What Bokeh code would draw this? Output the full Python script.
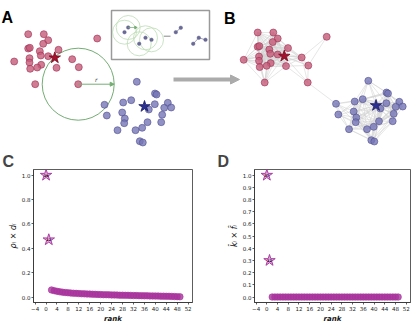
import math
from bokeh.plotting import figure
from bokeh.layouts import column, row
from bokeh.models import Range1d, FixedTicker, Arrow, NormalHead, PrintfTickFormatter
from bokeh.core.properties import value
from bokeh.embed import file_html
from bokeh.resources import INLINE

# ---------------- data ----------------
# network node layout (panel A coordinates)
red_x = [27.7, 43.3, 47.7, 42.7, 96.7, 27.7, 29.3, 39.3, 58.0, 40.3, 47.7,
         29.0, 29.0, 13.7, 71.7, 40.7, 36.7, 29.7, 56.0, 78.3, 34.7, 77.7]
red_y = [33.7, 33.7, 39.7, 43.3, 38.0, 48.0, 47.3, 50.7, 49.3, 55.0, 55.7,
         57.7, 62.0, 61.0, 58.7, 64.3, 67.0, 68.3, 67.3, 66.7, 83.7, 83.7]
red_star = (54.3, 57.3)
blue_x = [136.3, 154.5, 156.0, 130.7, 122.7, 104.0, 154.3, 167.3, 163.7, 170.7, 148.3,
          121.7, 106.3, 161.7, 124.3, 123.7, 147.0, 160.7, 141.7, 135.0, 117.0, 139.3, 142.3]
blue_y = [81.3, 93.0, 94.0, 99.7, 102.0, 104.3, 103.7, 102.3, 107.3, 107.0, 109.0,
          112.0, 115.0, 114.3, 118.0, 122.7, 121.7, 121.7, 127.3, 129.7, 129.7, 140.7, 142.0]
blue_star = (144.0, 106.0)
eps_node = 21          # index in red list of the node with the epsilon circle
eps_radius = 36.0
red_shift_b = (229.5, -1.7)
blue_shift_b = (231.5, -1.0)

# inset sketch
inset_x = [124.0, 127.7, 138.7, 145.0, 151.0, 175.3, 180.3, 192.7, 198.3, 205.0]
inset_y = [31.7, 27.0, 43.3, 37.3, 39.3, 31.7, 27.3, 43.3, 37.3, 39.3]
inset_circled = [0, 1, 2, 3, 4]
inset_radius = 12.0
inset_links = [(5, 6), (7, 8), (8, 9)]

# rank plots
rank_star = [0, 1]
rank_rest = list(range(2, 50))
c_star_vals = [1.0, 0.47]
c_star_labels = ["19", "12"]
c_vals = [0.058, 0.052, 0.047, 0.043, 0.040, 0.037, 0.035, 0.033, 0.031, 0.030,
          0.028, 0.027, 0.026, 0.025, 0.024, 0.023, 0.022, 0.021, 0.020, 0.019,
          0.019, 0.018, 0.017, 0.017, 0.016, 0.015, 0.015, 0.014, 0.014, 0.013,
          0.012, 0.012, 0.011, 0.011, 0.010, 0.010, 0.009, 0.009, 0.008, 0.008,
          0.007, 0.007, 0.006, 0.006, 0.005, 0.004, 0.003, 0.002]
d_star_vals = [1.0, 0.30]
d_star_labels = ["37", "12"]
d_vals = [0.0, 0.0, 0.0, 0.0, 0.0, 0.0, 0.0, 0.0, 0.0, 0.0, 0.0, 0.0,
          0.0, 0.0, 0.0, 0.0, 0.0, 0.0, 0.0, 0.0, 0.0, 0.0, 0.0, 0.0,
          0.0, 0.0, 0.0, 0.0, 0.0, 0.0, 0.0, 0.0, 0.0, 0.0, 0.0, 0.0,
          0.0, 0.0, 0.0, 0.0, 0.0, 0.0, 0.0, 0.0, 0.0, 0.0, 0.0, 0.0]
x_ticks = [-4, 0, 4, 8, 12, 16, 20, 24, 28, 32, 36, 40, 44, 48, 52]
c_yticks = [0.0, 0.2, 0.4, 0.6, 0.8, 1.0]
d_yticks = [0.0, 0.1, 0.2, 0.3, 0.4, 0.5, 0.6, 0.7, 0.8, 0.9, 1.0]
x_label = "rank"
c_ylabel = "\u03c1\u1d62 \u00d7 d\u1d62"
d_ylabel = "k\u0302\u1d62 \u00d7 f\u0302\u1d62"

# ---------------- styles ----------------
RED_FILL, RED_LINE = "#c65a7a", "#9c2f50"
BLUE_FILL, BLUE_LINE = "#7676b6", "#4f4f8f"
GREEN = "#74ad74"
PURPLE = "#a8339c"
FONT = "DejaVu Sans"
LETTER_FONT = "Liberation Sans"

top = figure(width=415, height=150, x_range=Range1d(0, 415), y_range=Range1d(150, 0),
             x_axis_location=None, y_axis_location=None, output_backend="svg",
             toolbar_location=None, min_border=0)
top.grid.visible = False
top.outline_line_color = None

# ---- panel B edges (epsilon graph)
all_x = red_x + [red_star[0]] + blue_x + [blue_star[0]]
all_y = red_y + [red_star[1]] + blue_y + [blue_star[1]]
n_red = len(red_x) + 1
bx = [x + (red_shift_b[0] if i < n_red else blue_shift_b[0]) for i, x in enumerate(all_x)]
by = [y + (red_shift_b[1] if i < n_red else blue_shift_b[1]) for i, y in enumerate(all_y)]
e0x, e0y, e1x, e1y = [], [], [], []
for i in range(len(all_x)):
    for j in range(i + 1, len(all_x)):
        if math.hypot(all_x[i] - all_x[j], all_y[i] - all_y[j]) < eps_radius:
            e0x.append(bx[i]); e0y.append(by[i]); e1x.append(bx[j]); e1y.append(by[j])
top.segment(e0x, e0y, e1x, e1y, line_color="#d2d2d2", line_width=0.7, line_alpha=0.8)


def draw_nodes(dx_r, dy_r, dx_b, dy_b):
    top.scatter([x + dx_r for x in red_x], [y + dy_r for y in red_y], size=7,
                fill_color=RED_FILL, fill_alpha=0.8, line_color=RED_LINE, line_width=0.6)
    top.scatter([x + dx_b for x in blue_x], [y + dy_b for y in blue_y], size=7,
                fill_color=BLUE_FILL, fill_alpha=0.8, line_color=BLUE_LINE, line_width=0.6)
    top.scatter([red_star[0] + dx_r], [red_star[1] + dy_r], marker="star", size=12,
                fill_color="#a3122e", line_color="#7a0a20", line_width=0.8)
    top.scatter([blue_star[0] + dx_b], [blue_star[1] + dy_b], marker="star", size=12,
                fill_color="#2b2f8f", line_color="#1a1d66", line_width=0.8)


# ---- panel A
cx, cy = red_x[eps_node], red_y[eps_node]
top.circle(x=[cx], y=[cy], radius=eps_radius, fill_color=None, line_color=GREEN, line_width=1)
top.add_layout(Arrow(end=NormalHead(size=4, fill_color=GREEN, line_color=GREEN),
                     x_start=cx, y_start=cy, x_end=cx + eps_radius, y_end=cy,
                     line_color=GREEN, line_width=1))
top.text(x=[cx + eps_radius / 2], y=[cy - 1.5], text=["r"], text_font=value(FONT),
         text_font_size="6px", text_font_style="italic", text_color="#444444",
         text_align="center", text_baseline="bottom")
draw_nodes(0, 0, 0, 0)

# ---- inset sketch
top.quad(left=[111], right=[209], top=[10], bottom=[59], fill_color=None,
         line_color="#9a9a9a", line_width=1.5)
top.circle(x=[inset_x[i] for i in inset_circled], y=[inset_y[i] for i in inset_circled],
           radius=inset_radius, fill_color=None, line_color="#bcdcb4", line_width=0.8)
top.segment([inset_x[a] for a, b in inset_links], [inset_y[a] for a, b in inset_links],
            [inset_x[b] for a, b in inset_links], [inset_y[b] for a, b in inset_links],
            line_color="#8888a8", line_width=0.8)
top.add_layout(Arrow(end=NormalHead(size=2.5, fill_color=GREEN, line_color=GREEN),
                     x_start=inset_x[1], y_start=inset_y[1], x_end=inset_x[1] + 9,
                     y_end=inset_y[1], line_color=GREEN, line_width=0.7))
top.segment([163.3], [35.7], [170.0], [35.7], line_color="#888888", line_width=1)
top.scatter(inset_x, inset_y, size=3.6, fill_color="#6a6a9a", line_color="#55557f",
            line_width=0.4)

# ---- big arrow
top.add_layout(Arrow(end=NormalHead(size=9, fill_color="#ababab", line_color="#ababab"),
                     x_start=173, y_start=79, x_end=239, y_end=79,
                     line_color="#ababab", line_width=4))

# ---- panel B nodes
draw_nodes(red_shift_b[0], red_shift_b[1], blue_shift_b[0], blue_shift_b[1])

# ---- panel letters
top.text(x=[1.0, 223.5], y=[17, 18], text=["A", "B"],
         text_font=value(LETTER_FONT), text_font_size="16px", text_font_style="bold",
         text_color="black", text_baseline="alphabetic")


def rank_fig(width, mbl, mbr, letter, star_vals, star_labels, vals, yticks, ylabel):
    p = figure(width=width, height=175, x_range=Range1d(-4.6, 53.6),
               y_range=Range1d(-0.045, 1.047), output_backend="svg",
               toolbar_location=None, min_border_left=mbl, min_border_right=mbr,
               min_border_top=0, min_border_bottom=2, title=letter)
    p.title.text_font = LETTER_FONT
    p.title.text_font_size = "16px"
    p.title.text_font_style = "bold"
    p.title.align = "left"
    p.title.offset = -(mbl - 2)
    p.title.standoff = 0
    p.grid.visible = False
    p.outline_line_color = "#333333"
    p.outline_line_width = 0.8
    p.xaxis.ticker = FixedTicker(ticks=x_ticks)
    p.xaxis.major_label_overrides = {t: ("\u2212" + str(-t) if t < 0 else str(t)) for t in x_ticks}
    p.yaxis.ticker = FixedTicker(ticks=yticks)
    p.yaxis.formatter = PrintfTickFormatter(format="%.1f")
    p.xaxis.axis_label = x_label
    p.yaxis.axis_label = ylabel
    p.xaxis.axis_label_text_font_style = "bold italic"
    p.yaxis.axis_label_text_font_style = "italic"
    p.xaxis.axis_label_text_font_size = "7px"
    p.yaxis.axis_label_text_font_size = "8px"
    for ax in (p.xaxis[0], p.yaxis[0]):
        ax.axis_line_color = "#333333"
        ax.axis_line_width = 0.8
        ax.major_tick_line_color = "#333333"
        ax.major_tick_line_width = 0.8
        ax.minor_tick_line_color = None
        ax.major_tick_in = 0
        ax.major_tick_out = 2
        ax.major_label_text_font = FONT
        ax.major_label_text_font_size = "5.5px"
        ax.major_label_text_color = "#222222"
        ax.major_label_standoff = 1
        ax.axis_label_text_font = FONT
        ax.axis_label_text_color = "#111111"
        ax.axis_label_standoff = 1
    p.scatter(rank_rest, vals, size=6.5, fill_color=PURPLE, fill_alpha=0.8,
              line_color=PURPLE, line_alpha=0.6)
    p.scatter(rank_star, star_vals, marker="star", size=12, fill_color="#e38ad5",
              fill_alpha=0.8, line_color="#a2329a", line_width=0.9)
    p.text(rank_star, star_vals, text=star_labels, text_font=value(FONT),
           text_font_size="3.5px", text_font_style="bold", text_color="black",
           text_align="center", text_baseline="middle")
    return p


c = rank_fig(215, 33, 23, "C", c_star_vals, c_star_labels, c_vals, c_yticks, c_ylabel)
d = rank_fig(200, 39, 5, "D", d_star_vals, d_star_labels, d_vals, d_yticks, d_ylabel)

layout = column(top, row(c, d))
open("out.html", "w").write(file_html(layout, INLINE))
